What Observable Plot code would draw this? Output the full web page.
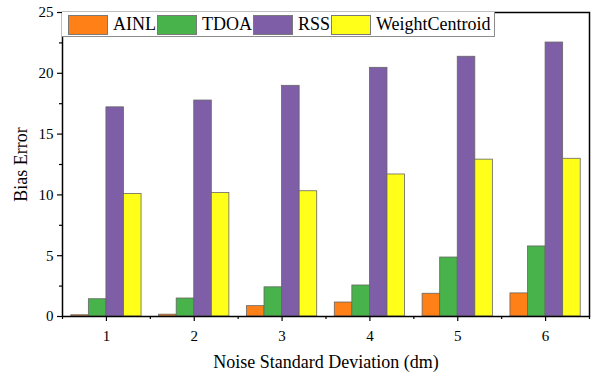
<!DOCTYPE html>
<html>
<head>
<meta charset="utf-8">
<script src="https://cdn.jsdelivr.net/npm/d3@7"></script>
<script src="https://cdn.jsdelivr.net/npm/@observablehq/plot@0.6"></script>
<style>
  html, body { margin: 0; padding: 0; background: #fff; }
  #wrap { position: relative; width: 596px; height: 375px; font-family: "Liberation Serif", "Times New Roman", serif; }
  #legend {
    position: absolute; left: 62px; top: 12px; width: 433px; height: 25px;
    box-sizing: border-box; border: 1px solid #8c8c8c; border-top: none; border-left: none;
    background: #fff; display: flex; align-items: center; padding-left: 5px;
    font-size: 18px; color: #000; white-space: nowrap;
  }
  .sw { width: 40px; height: 20px; box-sizing: border-box; border: 1px solid #7a7a7a; margin-left: 1px; margin-top: 1px; }
  .lt { margin-left: 5px; line-height: 1; }
</style>
</head>
<body>
<div id="wrap"><div id="legend"></div></div>
<script>
const categories = [1, 2, 3, 4, 5, 6];
const seriesNames = ["AINL", "TDOA", "RSS", "WeightCentroid"];
const ainl = [0.1, 0.15, 0.85, 1.15, 1.87, 1.9];
const tdoa = [1.42, 1.48, 2.4, 2.55, 4.85, 5.76];
const rss = [17.2, 17.76, 18.97, 20.45, 21.36, 22.53];
const weightCentroid = [10.08, 10.15, 10.3, 11.68, 12.9, 12.97];
const yTicks = [0, 5, 10, 15, 20, 25];
const yMinorTicks = [2.5, 7.5, 12.5, 17.5, 22.5];
const colors = ["#FF8016", "#47B34A", "#7F5EA8", "#FFFF1A"];

const seriesValues = [ainl, tdoa, rss, weightCentroid];
const groupWidth = 0.8;
const barW = groupWidth / seriesNames.length;
const table = [];
categories.forEach((c, i) => {
  seriesNames.forEach((s, j) => {
    const x1 = c - groupWidth / 2 + j * barW;
    table.push({cat: c, series: s, value: seriesValues[j][i], x1, x2: x1 + barW});
  });
});
const boundaries = [categories[0] - 0.5, ...categories.map(c => c + 0.5)];

const chart = Plot.plot({
  width: 596,
  height: 375,
  marginLeft: 62,
  marginRight: 7,
  marginTop: 12,
  marginBottom: 59,
  style: {fontFamily: "'Liberation Serif', 'Times New Roman', serif", fontSize: "15px", color: "#000", background: "transparent"},
  x: {domain: [categories[0] - 0.5, categories[categories.length - 1] + 0.5]},
  y: {domain: [0, 25]},
  color: {domain: seriesNames, range: colors},
  marks: [
    Plot.rectY(table, {x1: "x1", x2: "x2", y1: 0, y2: "value", fill: "series", stroke: "#666", strokeWidth: 0.8}),
    Plot.frame({stroke: "#000", strokeWidth: 1.5}),
    Plot.axisY(yTicks, {tickSize: 5, tickPadding: 4, label: null, fontSize: 15, stroke: "#000", strokeWidth: 1.2}),
    Plot.axisY(yMinorTicks, {tickSize: 3, tickFormat: () => "", label: null, stroke: "#000", strokeWidth: 1.2}),
    Plot.axisX(categories, {tickSize: 5, tickPadding: 9, label: null, fontSize: 15, stroke: "#000", strokeWidth: 1.2}),
    Plot.axisX(boundaries, {tickSize: 3, tickFormat: () => "", label: null, stroke: "#000", strokeWidth: 1.2}),
    Plot.text(["Bias Error"], {frameAnchor: "left", textAnchor: "middle", lineAnchor: "middle", rotate: -90, dx: -41, fontSize: 18, fill: "#000"}),
    Plot.text(["Noise Standard Deviation (dm)"], {frameAnchor: "bottom", textAnchor: "middle", lineAnchor: "middle", dy: 46, fontSize: 18, fill: "#000"})
  ]
});
document.getElementById("wrap").prepend(chart);

const legend = document.getElementById("legend");
seriesNames.forEach((s, j) => {
  const sw = document.createElement("div");
  sw.className = "sw";
  sw.style.background = colors[j];
  const t = document.createElement("span");
  t.className = "lt";
  t.textContent = s;
  legend.appendChild(sw);
  legend.appendChild(t);
});
</script>
</body>
</html>
